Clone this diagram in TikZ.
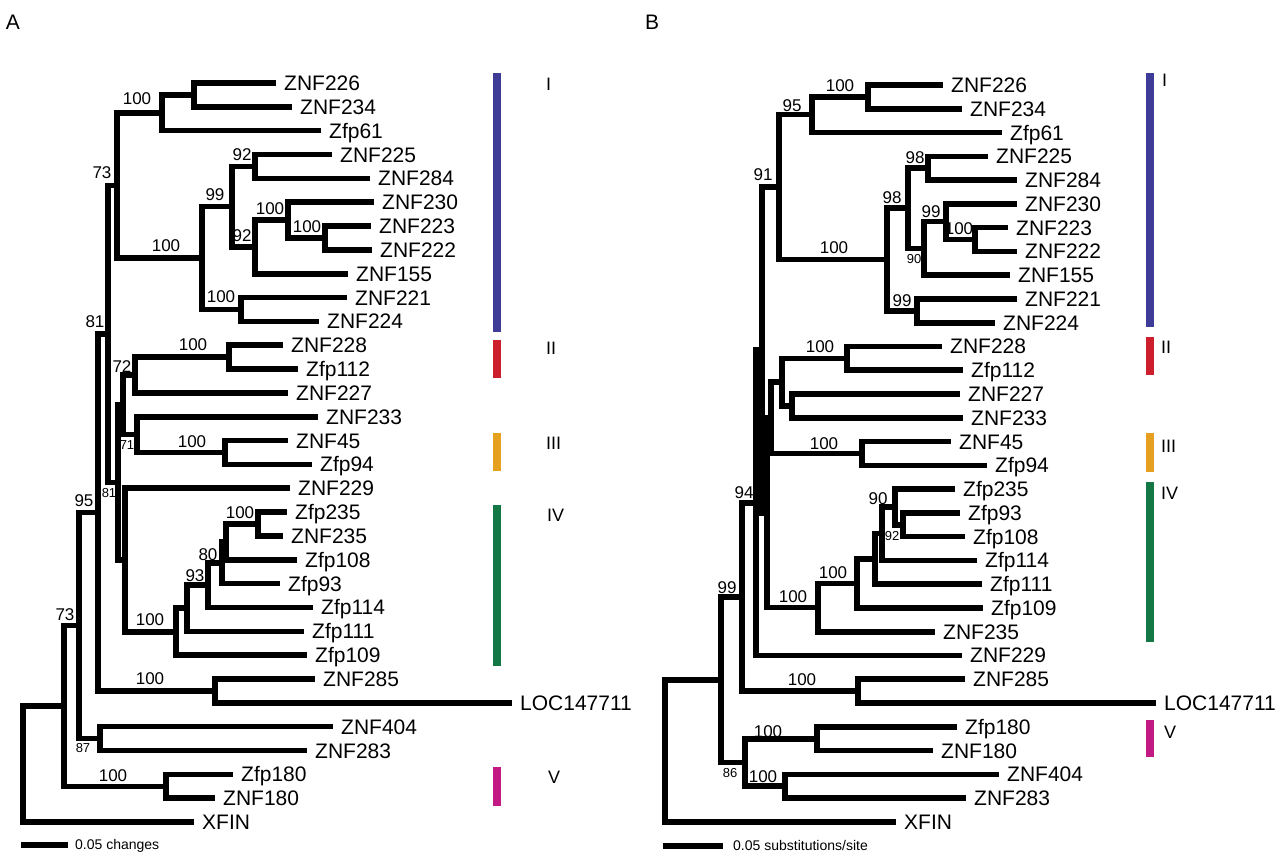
\documentclass[tikz,border=0pt]{standalone}
\usepackage{fontspec}
\setmainfont{Liberation Sans}
\definecolor{cI}{RGB}{62,60,150}
\definecolor{cII}{RGB}{205,30,45}
\definecolor{cIII}{RGB}{228,160,30}
\definecolor{cIV}{RGB}{20,120,70}
\definecolor{cV}{RGB}{195,25,130}
\tikzset{
  branch/.style={line width=5.6pt, black, line join=miter},
  leaflab/.style={anchor=base west, inner sep=0pt, font=\fontsize{21}{21}\selectfont},
  bsl/.style={inner sep=0pt, font=\fontsize{17}{17}\selectfont},
  bss/.style={inner sep=0pt, font=\fontsize{13}{13}\selectfont},
  clab/.style={anchor=west, inner sep=0pt, font=\fontsize{18}{18}\selectfont},
  panel/.style={inner sep=0pt, font=\fontsize{21}{21}\selectfont},
  scaletext/.style={anchor=base west, inner sep=0pt, font=\fontsize{14}{14}\selectfont},
  cbar/.style={line width=7.3pt}
}
\newcommand\lfa[4]{\coordinate (#1) at (#2,{83+23.84*#3}); \node[leaflab] (#1t) at ({#2+8},{83+23.84*#3+7.5}) {#4};}
\newcommand\lfb[4]{\coordinate (#1) at (#2,{85+23.77*#3}); \node[leaflab] (#1t) at ({#2+8},{85+23.77*#3+7.5}) {#4};}
\newcommand\innode[3]{\coordinate (#1) at (#2,#3);}
\newcommand\tbr[3]{\draw[branch] (#1) |- (#2) (#1) |- (#3);}
\begin{document}
\begin{tikzpicture}[x=1pt,y=-1pt]
\useasboundingbox (0,0) rectangle (1280,853);
\fill[white] (0,0) rectangle (1280,853);
% panel labels
\node[panel] (pA) at (13,22) {A};
\node[panel] (pB) at (652,22) {B};
% ---------------- tree A leaves
\lfa{aL0}{276}{0}{ZNF226}
\lfa{aL1}{292}{1}{ZNF234}
\lfa{aL2}{321}{2}{Zfp61}
\lfa{aL3}{332}{3}{ZNF225}
\lfa{aL4}{370}{4}{ZNF284}
\lfa{aL5}{374}{5}{ZNF230}
\lfa{aL6}{371}{6}{ZNF223}
\lfa{aL7}{372}{7}{ZNF222}
\lfa{aL8}{348}{8}{ZNF155}
\lfa{aL9}{347}{9}{ZNF221}
\lfa{aL10}{319}{10}{ZNF224}
\lfa{aL11}{283}{11}{ZNF228}
\lfa{aL12}{298}{12}{Zfp112}
\lfa{aL13}{288}{13}{ZNF227}
\lfa{aL14}{318}{14}{ZNF233}
\lfa{aL15}{288}{15}{ZNF45}
\lfa{aL16}{312}{16}{Zfp94}
\lfa{aL17}{290}{17}{ZNF229}
\lfa{aL18}{287}{18}{Zfp235}
\lfa{aL19}{283}{19}{ZNF235}
\lfa{aL20}{297}{20}{Zfp108}
\lfa{aL21}{280}{21}{Zfp93}
\lfa{aL22}{313}{22}{Zfp114}
\lfa{aL23}{304}{23}{Zfp111}
\lfa{aL24}{307}{24}{Zfp109}
\lfa{aL25}{315}{25}{ZNF285}
\lfa{aL26}{512}{26}{LOC147711}
\lfa{aL27}{333}{27}{ZNF404}
\lfa{aL28}{307}{28}{ZNF283}
\lfa{aL29}{233}{29}{Zfp180}
\lfa{aL30}{215}{30}{ZNF180}
\lfa{aL31}{194}{31}{XFIN}
% tree A internal nodes
\innode{a1}{194}{94.9}
\innode{a2}{162}{112.8}
\innode{a3}{255}{166.45}
\innode{a4}{325}{237.95}
\innode{a5}{288}{220.1}
\innode{a6}{255}{246.9}
\innode{a7}{232}{206.7}
\innode{a8}{241}{309.5}
\innode{a9}{202}{258.1}
\innode{a10}{117}{185.45}
\innode{a11}{229}{357.15}
\innode{a12}{135}{375.0}
\innode{a13}{225}{452.5}
\innode{a14}{137}{434.65}
\innode{a15}{123}{404.8}
\innode{a16}{258}{524.05}
\innode{a17}{226}{541.9}
\innode{a18}{222}{562.75}
\innode{a19}{208}{585.1}
\innode{a20}{187}{608.2}
\innode{a21}{176}{631.7}
\innode{a22}{125}{560}
\innode{a23}{118}{482.4}
\innode{a24}{108}{333.9}
\innode{a25}{215}{690.9}
\innode{a26}{98}{512.4}
\innode{a27}{100}{738.6}
\innode{a28}{79}{625.5}
\innode{a29}{166}{786.3}
\innode{a30}{64}{705.9}
\innode{a31}{23}{764}
% tree A support values
\node[bsl] (sa1) at (137,99) {100};
\node[bsl] (sa2) at (102,173) {73};
\node[bsl] (sa3) at (242,155) {92};
\node[bsl] (sa4) at (215,195) {99};
\node[bsl] (sa5) at (270,209) {100};
\node[bsl] (sa6) at (307,227) {100};
\node[bsl] (sa7) at (242,236) {92};
\node[bsl] (sa8) at (166,246) {100};
\node[bsl] (sa9) at (221,297) {100};
\node[bsl] (sa10) at (95,322) {81};
\node[bsl] (sa11) at (193,345) {100};
\node[bsl] (sa12) at (122,367) {72};
\node[bss] (sa13) at (127,445) {71};
\node[bsl] (sa14) at (192,442) {100};
\node[bss] (sa15) at (109,493) {81};
\node[bsl] (sa16) at (84,501) {95};
\node[bsl] (sa17) at (240,513) {100};
\node[bsl] (sa18) at (208,555) {80};
\node[bsl] (sa19) at (195,576) {93};
\node[bsl] (sa20) at (150,620) {100};
\node[bsl] (sa21) at (65,615) {73};
\node[bsl] (sa22) at (150,679) {100};
\node[bss] (sa23) at (83,748) {87};
\node[bsl] (sa24) at (113,776) {100};
% tree A branches
\tbr{a1}{aL0}{aL1}
\tbr{a2}{a1}{aL2}
\tbr{a3}{aL3}{aL4}
\tbr{a4}{aL6}{aL7}
\tbr{a5}{aL5}{a4}
\tbr{a6}{a5}{aL8}
\tbr{a7}{a3}{a6}
\tbr{a8}{aL9}{aL10}
\tbr{a9}{a7}{a8}
\tbr{a10}{a2}{a9}
\tbr{a11}{aL11}{aL12}
\tbr{a12}{a11}{aL13}
\tbr{a13}{aL15}{aL16}
\tbr{a14}{aL14}{a13}
\tbr{a15}{a12}{a14}
\tbr{a16}{aL18}{aL19}
\tbr{a17}{a16}{aL20}
\tbr{a18}{a17}{aL21}
\tbr{a19}{a18}{aL22}
\tbr{a20}{a19}{aL23}
\tbr{a21}{a20}{aL24}
\tbr{a22}{aL17}{a21}
\tbr{a23}{a15}{a22}
\tbr{a24}{a10}{a23}
\tbr{a25}{aL25}{aL26}
\tbr{a26}{a24}{a25}
\tbr{a27}{aL27}{aL28}
\tbr{a28}{a26}{a27}
\tbr{a29}{aL29}{aL30}
\tbr{a30}{a28}{a29}
\tbr{a31}{a30}{aL31}
% tree A groups
\coordinate (gA1t) at (497,73);  \coordinate (gA1b) at (497,332);
\coordinate (gA2t) at (497,340); \coordinate (gA2b) at (497,378);
\coordinate (gA3t) at (497,433); \coordinate (gA3b) at (497,471);
\coordinate (gA4t) at (497,505); \coordinate (gA4b) at (497,666);
\coordinate (gA5t) at (497,767); \coordinate (gA5b) at (497,806);
\draw[cbar,cI] (gA1t) -- (gA1b);
\draw[cbar,cII] (gA2t) -- (gA2b);
\draw[cbar,cIII] (gA3t) -- (gA3b);
\draw[cbar,cIV] (gA4t) -- (gA4b);
\draw[cbar,cV] (gA5t) -- (gA5b);
\node[clab] (rA1) at (546,84) {I};
\node[clab] (rA2) at (546,348) {II};
\node[clab] (rA3) at (546,443) {III};
\node[clab] (rA4) at (547,515) {IV};
\node[clab] (rA5) at (548,777) {V};
% scale A
\coordinate (scA1) at (21,845); \coordinate (scA2) at (68,845);
\draw[branch] (scA1) -- (scA2);
\node[scaletext] (scAt) at (75,849.5) {0.05 changes};
% ---------------- tree B leaves
\lfb{bL0}{943}{0}{ZNF226}
\lfb{bL1}{962}{1}{ZNF234}
\lfb{bL2}{1002}{2}{Zfp61}
\lfb{bL3}{988}{3}{ZNF225}
\lfb{bL4}{1017}{4}{ZNF284}
\lfb{bL5}{1017}{5}{ZNF230}
\lfb{bL6}{1008}{6}{ZNF223}
\lfb{bL7}{1017}{7}{ZNF222}
\lfb{bL8}{1010}{8}{ZNF155}
\lfb{bL9}{1017}{9}{ZNF221}
\lfb{bL10}{995}{10}{ZNF224}
\lfb{bL11}{942}{11}{ZNF228}
\lfb{bL12}{963}{12}{Zfp112}
\lfb{bL13}{960}{13}{ZNF227}
\lfb{bL14}{963}{14}{ZNF233}
\lfb{bL15}{951}{15}{ZNF45}
\lfb{bL16}{987}{16}{Zfp94}
\lfb{bL17}{955}{17}{Zfp235}
\lfb{bL18}{960}{18}{Zfp93}
\lfb{bL19}{965}{19}{Zfp108}
\lfb{bL20}{977}{20}{Zfp114}
\lfb{bL21}{982}{21}{Zfp111}
\lfb{bL22}{983}{22}{Zfp109}
\lfb{bL23}{935}{23}{ZNF235}
\lfb{bL24}{962}{24}{ZNF229}
\lfb{bL25}{965}{25}{ZNF285}
\lfb{bL26}{1156}{26}{LOC147711}
\lfb{bL27}{957}{27}{Zfp180}
\lfb{bL28}{933}{28}{ZNF180}
\lfb{bL29}{999}{29}{ZNF404}
\lfb{bL30}{966}{30}{ZNF283}
\lfb{bL31}{896}{31}{XFIN}
% tree B internal nodes
\innode{b1}{868}{96.9}
\innode{b2}{812}{114.7}
\innode{b3}{928}{168.2}
\innode{b4}{975}{239.5}
\innode{b5}{946}{221.7}
\innode{b6}{924}{248.45}
\innode{b7}{908}{208.3}
\innode{b8}{917}{310.8}
\innode{b9}{887}{259.55}
\innode{b10}{779}{187.1}
\innode{b11}{847}{358.35}
\innode{b12}{792}{405.9}
\innode{b13}{782}{382.1}
\innode{b14}{862}{453.45}
\innode{b15}{771}{417.8}
\innode{b16}{903}{524.75}
\innode{b17}{895}{506.9}
\innode{b18}{882}{533.65}
\innode{b19}{875}{558.9}
\innode{b20}{857}{583.4}
\innode{b21}{818}{607.55}
\innode{b22}{767}{512.7}
\innode{b23}{762}{349.9}
\innode{b24}{756}{502.7}
\innode{b25}{858}{691.15}
\innode{b26}{742}{596.9}
\innode{b27}{817}{738.7}
\innode{b28}{785}{786.2}
\innode{b29}{745}{762.45}
\innode{b30}{721}{679.7}
\innode{b31}{665}{750.8}
% tree B support values
\node[bsl] (sb1) at (840,86) {100};
\node[bsl] (sb2) at (792,106) {95};
\node[bsl] (sb3) at (763,175) {91};
\node[bsl] (sb4) at (915,158) {98};
\node[bsl] (sb5) at (892,198) {98};
\node[bsl] (sb6) at (931,212) {99};
\node[bsl] (sb7) at (959,229) {100};
\node[bss] (sb8) at (914,259) {90};
\node[bsl] (sb9) at (834,248) {100};
\node[bsl] (sb10) at (902,301) {99};
\node[bsl] (sb11) at (820,347) {100};
\node[bsl] (sb12) at (824,444) {100};
\node[bsl] (sb13) at (878,499) {90};
\node[bss] (sb14) at (892,536) {92};
\node[bsl] (sb15) at (833,573) {100};
\node[bsl] (sb16) at (793,597) {100};
\node[bsl] (sb17) at (744,493) {94};
\node[bsl] (sb18) at (727,588) {99};
\node[bsl] (sb19) at (802,680) {100};
\node[bsl] (sb20) at (768,732) {100};
\node[bss] (sb21) at (730,773) {86};
\node[bsl] (sb22) at (763,777) {100};
% tree B branches
\tbr{b1}{bL0}{bL1}
\tbr{b2}{b1}{bL2}
\tbr{b3}{bL3}{bL4}
\tbr{b4}{bL6}{bL7}
\tbr{b5}{bL5}{b4}
\tbr{b6}{b5}{bL8}
\tbr{b7}{b3}{b6}
\tbr{b8}{bL9}{bL10}
\tbr{b9}{b7}{b8}
\tbr{b10}{b2}{b9}
\tbr{b11}{bL11}{bL12}
\tbr{b12}{bL13}{bL14}
\tbr{b13}{b11}{b12}
\tbr{b14}{bL15}{bL16}
\tbr{b15}{b13}{b14}
\tbr{b16}{bL18}{bL19}
\tbr{b17}{bL17}{b16}
\tbr{b18}{b17}{bL20}
\tbr{b19}{b18}{bL21}
\tbr{b20}{b19}{bL22}
\tbr{b21}{b20}{bL23}
\tbr{b22}{b15}{b21}
\tbr{b23}{b10}{b22}
\tbr{b24}{b23}{bL24}
\tbr{b25}{bL25}{bL26}
\tbr{b26}{b24}{b25}
\tbr{b27}{bL27}{bL28}
\tbr{b28}{bL29}{bL30}
\tbr{b29}{b27}{b28}
\tbr{b30}{b26}{b29}
\tbr{b31}{b30}{bL31}
% tree B groups
\coordinate (gB1t) at (1150,73);  \coordinate (gB1b) at (1150,327);
\coordinate (gB2t) at (1150,337); \coordinate (gB2b) at (1150,375);
\coordinate (gB3t) at (1150,433); \coordinate (gB3b) at (1150,472);
\coordinate (gB4t) at (1150,482); \coordinate (gB4b) at (1150,642);
\coordinate (gB5t) at (1150,720); \coordinate (gB5b) at (1150,757);
\draw[cbar,cI] (gB1t) -- (gB1b);
\draw[cbar,cII] (gB2t) -- (gB2b);
\draw[cbar,cIII] (gB3t) -- (gB3b);
\draw[cbar,cIV] (gB4t) -- (gB4b);
\draw[cbar,cV] (gB5t) -- (gB5b);
\node[clab] (rB1) at (1162,80) {I};
\node[clab] (rB2) at (1161,347) {II};
\node[clab] (rB3) at (1161,446) {III};
\node[clab] (rB4) at (1161,493) {IV};
\node[clab] (rB5) at (1164,732) {V};
% scale B
\coordinate (scB1) at (663,846); \coordinate (scB2) at (723,846);
\draw[branch] (scB1) -- (scB2);
\node[scaletext] (scBt) at (733,850) {0.05 substitutions/site};
\end{tikzpicture}
\end{document}
